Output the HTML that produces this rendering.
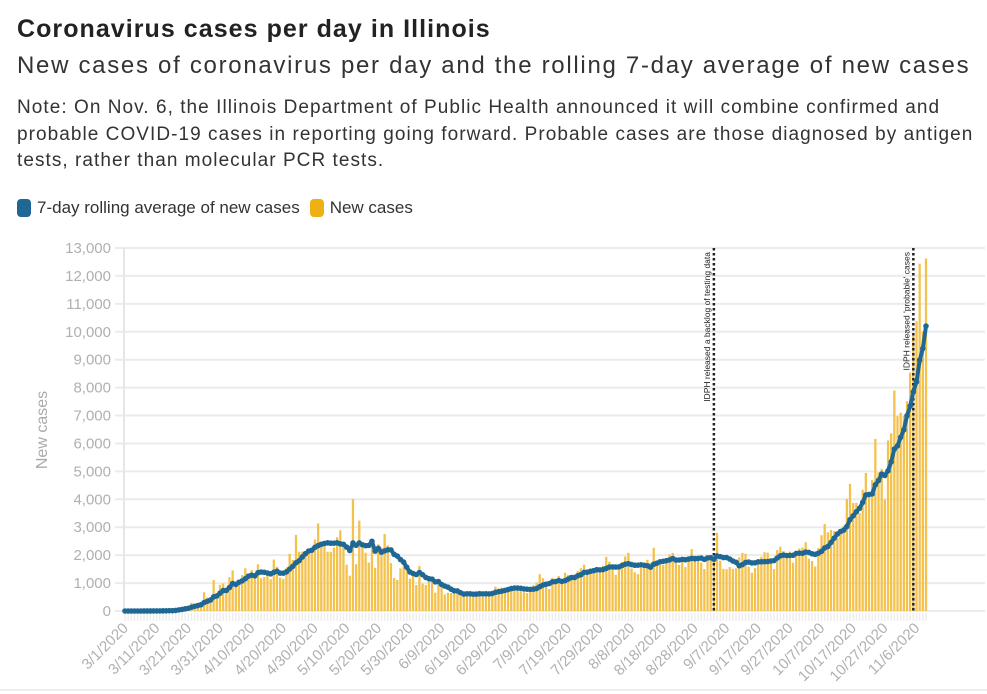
<!DOCTYPE html>
<html><head><meta charset="utf-8">
<style>
body{margin:0;width:987px;height:694px;background:#fff;font-family:"Liberation Sans",sans-serif;overflow:hidden;position:relative;color:#222}
.t{position:absolute;left:17px;white-space:nowrap}
</style></head><body>
<div class="t" style="top:15px;font-size:25px;font-weight:bold;color:#222;letter-spacing:1.05px">Coronavirus cases per day in Illinois</div>
<div class="t" style="top:52px;font-size:24px;color:#333;letter-spacing:1.7px">New cases of coronavirus per day and the rolling 7-day average of new cases</div>
<div class="t" style="top:95px;font-size:19px;line-height:26.5px;color:#333;letter-spacing:1.05px">Note: On Nov. 6, the Illinois Department of Public Health announced it will combine confirmed and<br>probable COVID-19 cases in reporting going forward. Probable cases are those diagnosed by antigen<br>tests, rather than molecular PCR tests.</div>
<div class="t" style="top:198px;font-size:17px;color:#333;display:flex;align-items:center">
 <span style="display:flex;align-items:center"><span style="display:inline-block;width:14px;height:18px;border-radius:4px;background:#1f6896;margin-right:6px"></span>7-day rolling average of new cases</span>
 <span style="display:flex;align-items:center;margin-left:10px"><span style="display:inline-block;width:14px;height:18px;border-radius:4px;background:#eeb111;margin-right:6px"></span>New cases</span>
</div>
<svg id="chart" width="987" height="694" style="position:absolute;left:0;top:0"></svg>
<script>
const yTicks=[0,1000,2000,3000,4000,5000,6000,7000,8000,9000,10000,11000,12000,13000];
const startDate=[2020,2,1];
const newCases=[
0,0,0,0,1,1,2,0,4,4,
6,7,14,18,29,12,55,128,134,163,
168,296,236,250,330,673,488,465,1105,461,937,
986,715,1209,1453,899,1006,1287,1529,1344,1465,1293,1672,1173,1222,1346,1140,1842,1585,1197,1151,1551,2049,1826,2724,2119,2126,1980,2219,2253,2563,
3137,2450,2341,2122,2122,2270,2641,2887,2325,1656,1266,4014,1677,3239,2432,2088,1734,2294,1545,2388,2268,2758,2352,1713,1178,1111,1527,1622,1462,1156,1343,
929,1614,982,929,1156,1040,658,1002,877,590,653,646,633,627,546,552,667,631,573,641,718,500,587,644,715,870,808,838,706,800,
876,869,849,764,671,644,750,924,1018,1317,1174,905,786,1187,1004,1257,1106,1370,1293,1174,1199,1436,1532,1659,1426,1511,1344,1443,1393,1623,1941,
1766,1546,1298,1471,1759,1953,2084,1522,1388,1319,1549,1645,1834,1725,2264,1657,1672,1658,1801,2024,2082,1892,1656,1828,1573,1957,2215,1981,1974,1737,1503,
1941,2005,1842,2800,1803,1510,1495,1574,1507,1529,1925,2083,2051,1591,1371,1536,1762,1945,2107,2091,1706,1499,2177,2303,2146,1982,2131,1727,1966,2242,
2273,2464,1875,1791,1592,2253,2715,3117,2818,2905,2866,2630,2877,3059,4015,4554,3870,3874,3497,4342,4942,4132,4688,6161,4961,5091,4000,6110,6363,7899,6980,
7099,6980,7516,8538,9935,10376,12438,10009,12623
];
const annotations=[{day:186,text:"IDPH released a backlog of testing data"},{day:249,text:"IDPH released 'probable' cases"}];
const NS="http://www.w3.org/2000/svg";
const svg=document.getElementById('chart');
const X0=125,X1=926,Y0=611,YT=248,YMAX=13000;
const n=newCases.length;
const step=(X1-X0)/(n-1);
const xs=i=>X0+i*step;
const ys=v=>Y0-(v/YMAX)*(Y0-YT);
function mk(tag,attrs,parent){const e=document.createElementNS(NS,tag);for(const k in attrs)e.setAttribute(k,attrs[k]);(parent||svg).appendChild(e);return e;}
yTicks.forEach(v=>{
 const g=mk('line',{x1:115,x2:985,y1:ys(v),y2:ys(v),stroke:'#ebebeb','stroke-width':2});
 
 
 const t=mk('text',{x:111,y:ys(v)+5,'text-anchor':'end','font-size':15,fill:'#b0b0b0','font-family':'Liberation Sans, sans-serif'});
 t.textContent=v.toLocaleString('en-US');
 
 
});
const ax=mk('line',{x1:124,x2:124,y1:YT,y2:Y0+2,stroke:'#e6e6e6','stroke-width':2});


const yt=mk('text',{x:47,y:430,'text-anchor':'middle','font-size':16,fill:'#aaa',transform:'rotate(-90 47 430)','font-family':'Liberation Sans, sans-serif'});
yt.textContent='New cases';


for(let i=0;i<n;i++){
 const tk=mk('line',{x1:xs(i),x2:xs(i),y1:Y0+2,y2:Y0+10,stroke:'#eee','stroke-width':1.5});
 
 
}
const bw=step*0.72;
newCases.forEach((v,i)=>{
 const r=mk('rect',{x:xs(i)-bw/2,y:ys(v),width:bw,height:Math.max(0,Y0-ys(v)),fill:'#f3c14c'});
 
 
});
for(let i=0;i<n;i+=10){
 const d=new Date(startDate[0],startDate[1],startDate[2]+i);
 const lab=(d.getMonth()+1)+'/'+d.getDate()+'/'+d.getFullYear();
 const x=xs(i)+4,y=Y0+18;
 const t=mk('text',{x:x,y:y,'text-anchor':'end','font-size':15,fill:'#b0b0b0',transform:`rotate(-45 ${x} ${y})`,'font-family':'Liberation Sans, sans-serif'});
 t.textContent=lab;
 
 
}
annotations.forEach(a=>{
 const x=xs(a.day);
 const l=mk('line',{x1:x,x2:x,y1:YT,y2:Y0,stroke:'#222','stroke-width':2.5,'stroke-dasharray':'2.5 2.5'});
 
 
 const t=mk('text',{x:x-4,y:YT+4,'text-anchor':'end','font-size':8.5,fill:'#222',transform:`rotate(-90 ${x-4} ${YT+4})`,'font-family':'Liberation Sans, sans-serif'});
 t.textContent=a.text;
 
 
});
const avg=newCases.map((v,i)=>{const s=newCases.slice(Math.max(0,i-6),i+1);return s.reduce((a,b)=>a+b,0)/s.length;});
const p=mk('path',{d:avg.map((v,i)=>(i?'L':'M')+xs(i).toFixed(1)+' '+ys(v).toFixed(1)).join(''),fill:'none',stroke:'#1f6896','stroke-width':4,'stroke-linejoin':'round'});


avg.forEach((v,i)=>{
 const c=mk('circle',{cx:xs(i),cy:ys(v),r:2.8,fill:'#1f6896'});
 
 
});
const bl=mk('line',{x1:0,x2:987,y1:690,y2:690,stroke:'#ddd','stroke-width':1});


</script>
</body></html>
